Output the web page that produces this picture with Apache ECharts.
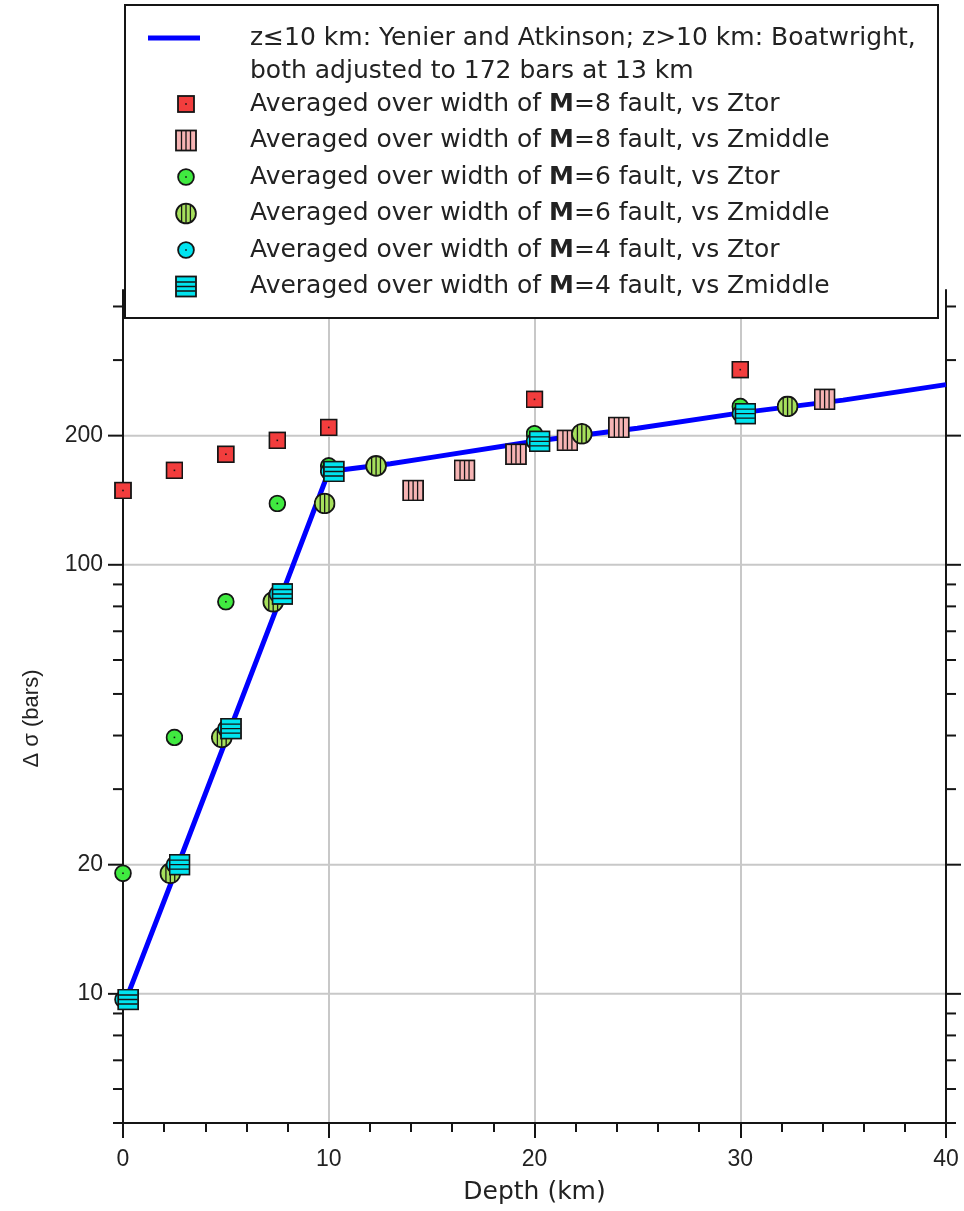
<!DOCTYPE html>
<html><head><meta charset="utf-8">
<script src="https://cdn.jsdelivr.net/npm/echarts@6/dist/echarts.min.js"></script>
<style>html,body{margin:0;padding:0;background:#fff}#c{width:964px;height:1211px}</style>
</head><body><div id="c"></div><script>
// ---------------- data ----------------
const lineDepth  = [0, 2.5, 5, 7.5, 10, 13, 15, 20, 25, 30, 35, 40];
const lineStress = [9.3, 19, 39, 80, 165, 172, 178, 194, 208, 226, 242, 263];
const m8TorDepth  = [0, 2.5, 5, 7.5, 10, 20, 30];
const m8TorStress = [149, 166, 181, 195, 209, 243, 285];
const m8MidDepth  = [14.1, 16.6, 19.1, 21.6, 24.1, 34.1];
const m8MidStress = [149, 166, 181, 195, 209, 243];
const m6TorDepth  = [0, 2.5, 5, 7.5, 10, 20, 30];
const m6TorStress = [19.1, 39.6, 82, 139, 170, 202, 234];
const m6MidDepth  = [2.3, 4.8, 7.3, 9.8, 12.3, 22.3, 32.3];
const m6MidStress = [19.1, 39.6, 82, 139, 170, 202, 234];
const m4TorDepth  = [0, 2.5, 5, 7.5, 10, 20, 30];
const m4TorStress = [9.7, 20, 41.5, 85.5, 165, 194, 225];
const m4MidDepth  = [0.25, 2.75, 5.25, 7.75, 10.25, 20.25, 30.25];
const m4MidStress = [9.7, 20, 41.5, 85.5, 165, 194, 225];
const yLabelValues = [10, 20, 100, 200];
const yLabelTexts  = ['10', '20', '100', '200'];
const yMajorTickValues = [10, 20, 100, 200];
const yMinorTickValues = [5, 6, 7, 8, 9, 30, 40, 50, 60, 70, 80, 90, 300, 400];
const yGridValues = [10, 20, 100, 200];
const seriesNames = [
  'z\u226410 km: Yenier and Atkinson; z>10 km: Boatwright, both adjusted to 172 bars at 13 km',
  'Averaged over width of M=8 fault, vs Ztor',
  'Averaged over width of M=8 fault, vs Zmiddle',
  'Averaged over width of M=6 fault, vs Ztor',
  'Averaged over width of M=6 fault, vs Zmiddle',
  'Averaged over width of M=4 fault, vs Ztor',
  'Averaged over width of M=4 fault, vs Zmiddle'
];
const firstLegendText = 'z\u226410 km: Yenier and Atkinson; z>10 km: Boatwright,\nboth adjusted to 172 bars at 13 km';

// ---------------- styles ----------------
const FONT = 'Liberation Sans';
const WIDE = 'DejaVu Sans';
const TXT = '#222';
const pairs = (xs, ys) => xs.map((x, i) => [x, ys[i]]);

function markerSvg(kind) {
  const k = '#151515';
  switch (kind) {
    case 'redSq': return "<rect x='1' y='1' width='16' height='16' fill='#f23d3d' stroke='"+k+"' stroke-width='1.8'/><rect x='8.2' y='8.2' width='1.6' height='1.6' fill='"+k+"'/>";
    case 'pinkSq': return "<rect x='1' y='1' width='20' height='20' fill='#f6b4b4' stroke='"+k+"' stroke-width='1.8'/><path d='M6.5 1.5v19M11 1.5v19M15.5 1.5v19' stroke='"+k+"' stroke-width='1.3'/>";
    case 'greenC': return "<circle cx='9' cy='9' r='7.9' fill='#40ea40' stroke='"+k+"' stroke-width='1.8'/><rect x='8.2' y='8.2' width='1.6' height='1.6' fill='"+k+"'/>";
    case 'lgreenC': return "<defs><clipPath id='cc'><circle cx='11' cy='11' r='9.9'/></clipPath></defs><circle cx='11' cy='11' r='9.9' fill='#a6e05c'/><path clip-path='url(#cc)' d='M6.6 0v22M11 0v22M15.4 0v22' stroke='"+k+"' stroke-width='1.3'/><circle cx='11' cy='11' r='9.9' fill='none' stroke='"+k+"' stroke-width='1.8'/>";
    case 'cyanC': return "<circle cx='9' cy='9' r='7.9' fill='#00e4ef' stroke='"+k+"' stroke-width='1.8'/><rect x='8.2' y='8.2' width='1.6' height='1.6' fill='"+k+"'/>";
    case 'cyanSq': return "<rect x='1' y='1' width='20' height='20' fill='#00e4ef' stroke='"+k+"' stroke-width='1.8'/><path d='M1.5 6.5h19M1.5 11h19M1.5 15.5h19' stroke='"+k+"' stroke-width='1.3'/>";
  }
}
const markerSize = {redSq: 18, pinkSq: 22, greenC: 18, lgreenC: 22, cyanC: 18, cyanSq: 22};
function svgUri(w, h, inner) {
  return 'image://data:image/svg+xml;charset=utf-8,' + encodeURIComponent(
    "<svg xmlns='http://www.w3.org/2000/svg' width='" + w + "' height='" + h + "' viewBox='0 0 " + w + " " + h + "'>" + inner + "</svg>");
}
function markerSymbol(kind) { const s = markerSize[kind]; return svgUri(s, s, markerSvg(kind)); }
const LW = 100, LH = 40;
function legendMarker(kind) {
  const s = markerSize[kind];
  return svgUri(LW, LH, "<g transform='translate(" + (41 - s / 2) + "," + (20 - s / 2) + ")'>" + markerSvg(kind) + "</g>");
}
const legendLine = svgUri(LW, LH, "<line x1='3' y1='3.5' x2='55' y2='3.5' stroke='#0000ff' stroke-width='5'/>");
const kinds = ['redSq', 'pinkSq', 'greenC', 'lgreenC', 'cyanC', 'cyanSq'];
const scatterData = [
  pairs(m8TorDepth, m8TorStress), pairs(m8MidDepth, m8MidStress),
  pairs(m6TorDepth, m6TorStress), pairs(m6MidDepth, m6MidStress),
  pairs(m4TorDepth, m4TorStress), pairs(m4MidDepth, m4MidStress)
];

function tickSeries(values, len) {
  return {
    type: 'custom', coordinateSystem: 'cartesian2d', z: 1, silent: true, clip: false,
    data: values.map(v => [0, v]),
    renderItem: (params, api) => {
      const y = api.coord([0, api.value(1)])[1];
      const cs = params.coordSys;
      return { type: 'group', children: [
        { type: 'line', shape: { x1: cs.x - len, y1: y, x2: cs.x, y2: y }, style: { stroke: '#151515', lineWidth: 2 } },
        { type: 'line', shape: { x1: cs.x + cs.width, y1: y, x2: cs.x + cs.width + len, y2: y }, style: { stroke: '#151515', lineWidth: 2 } }
      ]};
    }
  };
}

const chart = echarts.init(document.getElementById('c'), null, { renderer: 'canvas' });
const series = [
  {
    type: 'custom', coordinateSystem: 'cartesian2d', z: 0, silent: true,
    data: yGridValues.map(v => [0, v]),
    renderItem: (params, api) => {
      const y = api.coord([0, api.value(1)])[1];
      const cs = params.coordSys;
      return { type: 'line', shape: { x1: cs.x, y1: y, x2: cs.x + cs.width, y2: y }, style: { stroke: '#c8c8c8', lineWidth: 2 } };
    }
  },
  tickSeries(yMajorTickValues, 15),
  tickSeries(yMinorTickValues, 10),
  {
    type: 'custom', coordinateSystem: 'cartesian2d', z: 1, silent: true, clip: false,
    data: yLabelValues.map(v => [0, v]),
    renderItem: (params, api) => {
      const y = api.coord([0, api.value(1)])[1];
      const cs = params.coordSys;
      return { type: 'text', x: cs.x - 20, y: y, style: { text: yLabelTexts[params.dataIndex], fontFamily: FONT, fontSize: 23, fill: TXT, align: 'right', verticalAlign: 'middle' } };
    }
  },
  {
    name: seriesNames[0], type: 'line', z: 3, showSymbol: false, symbol: 'none', clip: false,
    data: pairs(lineDepth, lineStress),
    lineStyle: { color: '#0000ff', width: 5 }, itemStyle: { color: '#0000ff' }
  }
];
kinds.forEach((k, i) => {
  series.push({
    name: seriesNames[i + 1], type: 'scatter', z: 4 + i, clip: false,
    symbol: markerSymbol(k), symbolSize: markerSize[k],
    data: scatterData[i], itemStyle: { color: '#000', opacity: 1 }
  });
});

chart.setOption({
  animation: false,
  backgroundColor: '#fff',
  grid: { left: 123, right: 18, top: 290, bottom: 88, containLabel: false },
  xAxis: {
    type: 'value', min: 0, max: 40, interval: 10,
    name: 'Depth (km)', nameLocation: 'middle', nameGap: 57,
    nameTextStyle: { fontFamily: WIDE, fontSize: 25, color: TXT },
    axisLine: { onZero: false, lineStyle: { color: '#151515', width: 2 } },
    axisTick: { length: 15, lineStyle: { color: '#151515', width: 2 } },
    minorTick: { show: true, splitNumber: 5, length: 9, lineStyle: { color: '#151515', width: 2 } },
    axisLabel: { fontFamily: FONT, fontSize: 23, color: TXT, margin: 25 },
    splitLine: { show: true, lineStyle: { color: '#c8c8c8', width: 2 } },
    minorSplitLine: { show: false }
  },
  yAxis: [
    {
      type: 'log', logBase: 10, min: 5, max: 437,
      name: '\u0394 \u03c3 (bars)', nameLocation: 'middle', nameGap: 80, nameRotate: 90,
      nameTextStyle: { fontFamily: FONT, fontSize: 22, color: TXT, padding: [0, 24, 0, 0] },
      axisLine: { show: true, onZero: false, lineStyle: { color: '#151515', width: 2 } },
      axisTick: { show: false }, axisLabel: { show: false }, splitLine: { show: false }
    },
    {
      type: 'log', logBase: 10, min: 5, max: 437, position: 'right',
      axisLine: { show: true, onZero: false, lineStyle: { color: '#151515', width: 2 } },
      axisTick: { show: false }, axisLabel: { show: false }, splitLine: { show: false }
    }
  ],
  legend: {
    orient: 'vertical', left: 145, top: 21.5, padding: 0, itemGap: -3.5,
    itemWidth: LW, itemHeight: LH, selectedMode: false, z: 20,
    textStyle: { fontFamily: WIDE, fontSize: 25, lineHeight: 33, color: TXT,
      rich: { b: { fontFamily: WIDE, fontSize: 25, lineHeight: 33, fontWeight: 'bold', color: TXT } } },
    data: seriesNames.map((n, i) => ({ name: n, icon: i === 0 ? legendLine : legendMarker(kinds[i - 1]) })),
    formatter: name => name === seriesNames[0] ? firstLegendText : name.replace('M=', '{b|M}=')
  },
  graphic: [{
    type: 'rect', z: 10, silent: true,
    shape: { x: 125, y: 5, width: 813, height: 313 },
    style: { fill: '#fff', stroke: '#151515', lineWidth: 2 }
  }],
  series: series
});
</script></body></html>
